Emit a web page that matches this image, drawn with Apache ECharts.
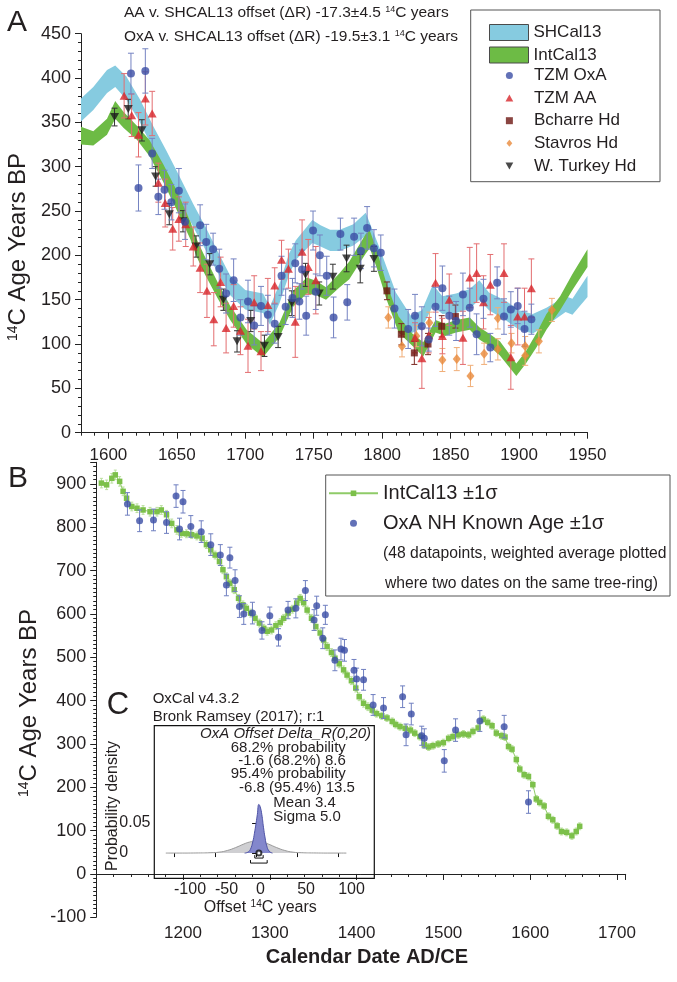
<!DOCTYPE html>
<html><head><meta charset="utf-8">
<script src="https://cdn.jsdelivr.net/npm/echarts@6/dist/echarts.min.js"></script>
<style>html,body{margin:0;padding:0;background:#fff}#c{width:677px;height:982px}</style>
</head><body><div id="c"></div>
<script>
// ---------------- Panel A data ----------------
const aXLabels = [1600,1650,1700,1750,1800,1850,1900,1950];
// SHCal13 band (year, mean 14C age, 1 sigma)
const shYear = [1580,1589,1599,1605,1613,1623,1633,1642,1652,1662,1671,1680,1689,1700,1713,1718,1725,1732,1737,1749,1755,1762,1769,1779,1788,1798,1810,1821,1829,1837,1844,1854,1864,1871,1878,1890,1900,1910,1920,1934,1939,1950];
const shMean = [364,377,396,402,389,363,332,306,276,245,219,192,166,150,146,132,157,190,206,227,222,217,217,223,235,195,146,122,128,155,144,146,151,161,148,138,127,123,131,145,142,165];
const shSig  = [13,13,13,12,13,13,13,13,13,13,13,12,11,11,11,10,11,12,11,13,12,12,12,12,13,14,12,10,10,12,10,11,11,11,10,11,11,11,10,9,9,12];
// IntCal13 band
const icYear = [1580,1589,1599,1605,1611,1621,1630,1640,1650,1660,1664,1670,1680,1689,1701,1713,1725,1735,1745,1752,1759,1769,1776,1788,1791,1796,1803,1812,1822,1830,1839,1846,1854,1864,1871,1878,1886,1898,1905,1913,1920,1930,1939,1950];
const icMean = [335,332,345,364,353,338,321,293,262,228,210,190,160,135,108,93,116,151,166,163,157,172,183,213,218,196,160,122,105,94,120,116,120,123,112,105,95,71,85,105,125,146,170,197];
const icSig  = [10,8,9,10,9,8,9,10,11,10,10,10,9,8,8,8,8,9,9,8,7,8,10,11,10,10,9,9,7,8,7,7,7,7,7,7,8,7,7,8,9,8,9,10];
// measurements: [year, 14C age, error]
const tzmOxA = [[1616.5,405,23],[1627,408,25],[1622,276,26],[1632,315,17],[1636.5,266,20],[1641,274,22],[1646,260,20],[1651.5,273,25],[1656,238,20],[1667,234,23],[1671.5,215,20],[1676.5,207,18],[1681,185,22],[1686,157,22],[1691.5,172,24],[1696.5,130,20],[1702,148,24],[1706.5,121,22],[1711.5,143,22],[1716.5,133,22],[1721.5,123,22],[1726.5,177,22],[1729.5,142,20],[1734.5,152,22],[1736.5,191,22],[1739.5,148,20],[1741.5,184,22],[1744.5,132,22],[1749.5,228,22],[1751.5,159,20],[1754.5,200,23],[1759.5,177,22],[1764.5,130,23],[1769.5,224,18],[1774.5,147,20],[1779.5,221,21],[1784.5,205,20],[1789,231,24],[1794,208,21],[1799,203,20],[1809,140,22],[1819,117,22],[1824,132,24],[1829,120,22],[1834,105,13],[1839,142,22],[1844,163,25],[1849,132,22],[1854,126,22],[1859,156,24],[1864,141,22],[1869,111,23],[1874,151,22],[1879,96,16],[1884,169,18],[1889,131,20],[1894,139,20],[1899,143,20],[1904,117,20],[1909,128,17]];
const tzmAA = [[1611.5,380,25],[1617,358,24],[1622,336,25],[1627,377,30],[1632,360,25],[1636.5,282,22],[1641.5,259,27],[1647,230,24],[1651.5,241,25],[1656.5,235,25],[1662,210,22],[1667,186,28],[1672,160,30],[1677,128,30],[1682,170,28],[1686,118,28],[1691.5,143,24],[1696.5,115,27],[1702,98,30],[1706.5,147,30],[1711.5,92,22],[1716.5,144,30],[1721.5,166,20],[1726.5,195,22],[1731.5,185,22],[1736.5,125,40],[1741.5,204,36],[1746,187,31],[1751.5,172,38],[1824,107,17],[1829,84,34],[1834,110,20],[1839,169,33],[1844,109,20],[1849,150,29],[1859,107,30],[1864,175,34],[1869,180,33],[1874,147,30],[1879,167,34],[1889,180,33],[1894,85,36],[1899,131,32],[1904,131,32],[1909,163,33]];
const bcharre = [[1803.5,160,10],[1814,111,12],[1823.5,90,13],[1833.5,100,12],[1843.5,120,12],[1853.5,131,13]];
const stavros = [[1804.5,130,12],[1814.5,97.5,12],[1825,109,12],[1834.5,124,12],[1844,82,13],[1854.5,83,13],[1864.5,64,12],[1874.5,89,12],[1884.5,129,12],[1884.5,94,12],[1894.5,101,11],[1904.5,97.5,11],[1904.5,87,11],[1914.5,103,13],[1924,138.5,13]];
const wTurkey = [[1604.5,356,10],[1614.5,365,11],[1624.5,341,12],[1634.5,289,11],[1644.5,246.5,12],[1654.5,238.5,12],[1664,210,12],[1674,190,12],[1684,150,12],[1694,103,12],[1704,126,12],[1714,98,12],[1724,108,12],[1734,146,14],[1744,178,13],[1754,157,13],[1764,176,14],[1774,196.5,15],[1784,185,16],[1794,196,14]];

// ---------------- Panel B data ----------------
const bXLabels = [1200,1300,1400,1500,1600,1700];
const intcalB = [[1106,902,11],[1112,898,11],[1118,913,11],[1122,921,11],[1127,906,11],[1131,883,10],[1135,867,10],[1141,848,10],[1147,844,10],[1154,840,10],[1162,836,10],[1170,836,10],[1175,840,10],[1181,829,10],[1187,809,10],[1193,794,10],[1198,786,9],[1204,785,9],[1210,783,9],[1216,780,9],[1222,775,9],[1227,760,9],[1232,748,9],[1237,736,9],[1242,721,9],[1246,702,9],[1250,686,9],[1254,671,9],[1259,656,9],[1264,636,9],[1269,621,9],[1273,613,9],[1278,602,9],[1283,590,9],[1288,579,9],[1293,567,9],[1297,560,9],[1302,563,9],[1307,573,9],[1312,580,9],[1316,590,9],[1321,602,9],[1326,611,9],[1331,625,9],[1335,636,9],[1339,626,9],[1343,609,9],[1348,590,9],[1353,571,9],[1358,556,9],[1362,540,9],[1366,525,9],[1371,511,9],[1375,498,9],[1380,485,9],[1385,471,9],[1389,459,9],[1394,446,9],[1399,429,9],[1403,409,9],[1408,394,9],[1413,386,9],[1418,378,8],[1423,370,8],[1429,365,8],[1435,360,8],[1441,352,8],[1445,345,8],[1450,340,8],[1456,336,8],[1462,332,8],[1467,325,8],[1473,317,8],[1478,298,8],[1483,293,8],[1488,296,8],[1494,300,8],[1500,303,8],[1506,313,8],[1511,317,8],[1517,321,8],[1523,323,8],[1529,321,8],[1534,329,8],[1540,337,8],[1546,357,8],[1551,350,8],[1556,342,8],[1561,325,8],[1567,319,8],[1571,316,8],[1575,294,8],[1579,288,8],[1584,264,8],[1588,242,8],[1593,229,8],[1598,225,8],[1603,206,8],[1607,173,8],[1611,165,8],[1616,157,8],[1621,133,8],[1626,125,8],[1631,111,8],[1636,98,8],[1642,96,8],[1648,88,8],[1653,98,8],[1657,110,8]];
const oxaNH = [[1136,854,26],[1150,815,25],[1166,817,25],[1181,811,25],[1192,872,26],[1200,859,26],[1196,796,25],[1209,802,25],[1221,790,25],[1232,760,25],[1243,736,24],[1254,730,24],[1250,667,25],[1260,677,25],[1265,617,25],[1270,600,24],[1280,602,25],[1291,562,20],[1300,596,20],[1310,546,20],[1321,609,20],[1330,613,22],[1341,654,23],[1351,586,24],[1354,619,22],[1361,544,24],[1364,598,22],[1375,493,24],[1382,519,25],[1386,516,25],[1397,470,25],[1400,450,25],[1408,448,24],[1419,390,24],[1431,383,24],[1453,409,25],[1457,321,25],[1463,369,25],[1475,319,22],[1478,313,22],[1501,261,26],[1514,332,26],[1542,353,24],[1570,340,26],[1598,166,26]];

// ---------------- Panel C (inset) data ----------------
const cXLabels = [-100,-50,0,50,100];
const priorX = [-110,-90,-70,-55,-45,-35,-25,-15,-8,0,8,15,25,35,45,55,70,90,110];
const priorY = [0,0,0.0002,0.0006,0.0015,0.0043,0.0091,0.015,0.0183,0.0199,0.0183,0.015,0.0091,0.0043,0.0015,0.0006,0.0002,0,0];
const postX = [-14,-10,-7,-4,-2,0,1.5,3.4,5,7,9,11,13,16,20];
const postY = [0,0.0015,0.006,0.019,0.033,0.05,0.064,0.081,0.077,0.064,0.043,0.025,0.012,0.003,0];
const range68 = [-1.6, 8.6];
const range95 = [-6.8, 13.5];
const meanOffset = 3.4;

// ---------------- styling ----------------
const FONT = 'Liberation Sans, Arial, Helvetica, sans-serif';
const TXT = '#231f20';
const SH_COL = '#86cbe0', IC_COL = '#6dbb45';
const C_OXA = '#3b4ea5', C_AA = '#d7262b', C_BCH = '#6d1712', C_STV = '#e8893b', C_WT = '#1c1c1c';
const TRI_UP = 'path://M5,0 L10,9 L0,9 Z';
const TRI_DN = 'path://M0,0 L10,0 L5,9 Z';
const SQUARE = 'path://M0,0 L10,0 L10,10 L0,10 Z';
const DIAMOND = 'path://M5,0 L10,6 L5,12 L0,6 Z';

function errRender(capW, color, lw) {
  return function (params, api) {
    const x = api.value(0), y = api.value(1), e = api.value(2);
    const t = api.coord([x, y + e]), b = api.coord([x, y - e]);
    const h = capW / 2, st = {stroke: color, lineWidth: lw};
    return {type: 'group', children: [
      {type: 'line', shape: {x1: t[0], y1: t[1], x2: b[0], y2: b[1]}, style: st},
      {type: 'line', shape: {x1: t[0]-h, y1: t[1], x2: t[0]+h, y2: t[1]}, style: st},
      {type: 'line', shape: {x1: b[0]-h, y1: b[1], x2: b[0]+h, y2: b[1]}, style: st}
    ]};
  };
}
function bandRender(years, means, sigs, color) {
  return function (params, api) {
    if (params.dataIndex !== 0) return null;
    const up = [], lo = [];
    for (let i = 0; i < years.length; i++) {
      up.push(api.coord([years[i], means[i] + sigs[i]]));
      lo.push(api.coord([years[i], means[i] - sigs[i]]));
    }
    return {type: 'polygon', shape: {points: up.concat(lo.reverse())}, style: {fill: color}};
  };
}
function bracketRender(params, api) {
  if (params.dataIndex !== 0) return null;
  const kids = [];
  [[range68, 5], [range95, 10]].forEach(function (r) {
    const a = api.coord([r[0][0], 0]), b = api.coord([r[0][1], 0]);
    const y = a[1] + r[1];
    const st = {stroke: '#111', lineWidth: 1};
    kids.push({type: 'line', shape: {x1: a[0], y1: y, x2: b[0], y2: y}, style: st});
    kids.push({type: 'line', shape: {x1: a[0], y1: y, x2: a[0], y2: y - 3}, style: st});
    kids.push({type: 'line', shape: {x1: b[0], y1: y, x2: b[0], y2: y - 3}, style: st});
  });
  return {type: 'group', children: kids};
}
function ax(o) { return Object.assign({type: 'value', splitLine: {show: false}}, o); }
const axisLine = {show: true, lineStyle: {color: '#222', width: 1}};
const lab = (fs, m) => ({color: TXT, fontSize: fs, fontFamily: FONT, margin: m});
function txt(x, y, text, fs, opt) {
  opt = opt || {};
  const align = opt.align || 'left';
  const st = Object.assign({text: text, fill: TXT, fontSize: fs, fontFamily: FONT,
    align: align, textAlign: align, verticalAlign: 'middle', textVerticalAlign: 'middle'}, opt.style || {});
  const el = {type: 'text', x: x, y: y, style: st, z: 50};
  if (opt.rotation) el.rotation = opt.rotation;
  return el;
}
function supRich(fs) {
  return {n: {fontSize: fs, fontFamily: FONT, fill: TXT, color: TXT},
          s: {fontSize: Math.round(fs * 0.6), fontFamily: FONT, fill: TXT, color: TXT, verticalAlign: 'top'}};
}

const chart = echarts.init(document.getElementById('c'), null, {renderer: 'canvas'});
const option = {
  backgroundColor: '#fff',
  animation: false,
  grid: [
    {left: 81, top: 33.7, width: 506.5, height: 399},
    {left: 96.2, top: 462.3, width: 529.5, height: 455},
    {left: 154.3, top: 725.7, width: 220, height: 152.6, show: true, borderColor: '#111', borderWidth: 1.2, backgroundColor: 'rgba(0,0,0,0)', z: 5}
  ],
  xAxis: [
    ax({gridIndex: 0, min: 1580, max: 1950, axisLine: axisLine,
        axisTick: {show: true, customValues: aXLabels, length: 6, lineStyle: {color: '#222'}},
        axisLabel: Object.assign(lab(17, 14), {customValues: aXLabels, formatter: v => String(v)})}),
    ax({gridIndex: 0, position: 'bottom', min: 1580, max: 1950, interval: 10, axisLine: {show: false},
        axisTick: {show: true, length: 3, lineStyle: {color: '#222'}}, axisLabel: {show: false}}),
    ax({gridIndex: 1, min: 1100, max: 1710, interval: 100, axisLine: axisLine,
        axisTick: {show: true, length: 6, lineStyle: {color: '#222'}},
        minorTick: {show: true, splitNumber: 5, length: 3, lineStyle: {color: '#222'}},
        axisLabel: Object.assign(lab(17, 8), {formatter: v => (v >= 1200 && v % 100 === 0) ? String(v) : ''})}),
    ax({gridIndex: 2, min: -124, max: 144, axisLine: {show: false},
        axisTick: {show: true, customValues: cXLabels, length: 4, lineStyle: {color: '#111'}},
        axisLabel: Object.assign(lab(16, 3), {customValues: cXLabels, align: 'left', formatter: v => String(v)}),
        name: '{n|Offset }{s|14}{n|C years}', nameLocation: 'middle', nameGap: 21,
        nameTextStyle: {rich: supRich(16), padding: [0, 8, 0, 0]}})
  ],
  yAxis: [
    ax({gridIndex: 0, min: 0, max: 450, interval: 50, axisLine: axisLine,
        axisTick: {show: true, length: 6, lineStyle: {color: '#222'}},
        minorTick: {show: true, splitNumber: 5, length: 3, lineStyle: {color: '#222'}},
        axisLabel: lab(18, 10)}),
    ax({gridIndex: 1, min: -100, max: 950, interval: 100, axisLine: axisLine,
        axisTick: {show: true, length: 6, lineStyle: {color: '#222'}},
        minorTick: {show: true, splitNumber: 10, length: 3, lineStyle: {color: '#222'}},
        axisLabel: Object.assign(lab(18, 10), {formatter: v => (v % 100 === 0) ? String(v) : ''})}),
    ax({gridIndex: 2, min: -0.042, max: 0.212, axisLine: {show: false},
        axisTick: {show: true, customValues: [0, 0.05], length: 4, lineStyle: {color: '#111'}},
        axisLabel: Object.assign(lab(16, 35), {customValues: [0, 0.05], align: 'left', formatter: v => v === 0 ? '0' : '0.05'})})
  ],
  legend: [
    {left: 489, top: 24, orient: 'vertical', itemWidth: 39, itemHeight: 16, itemGap: 5.5, padding: 0, selectedMode: false,
     textStyle: {fontSize: 17, fontFamily: FONT, color: TXT, lineHeight: 16},
     data: [{name: 'SHCal13', icon: 'rect', itemStyle: {color: SH_COL, borderColor: '#4a4a4a', borderWidth: 1}},
            {name: 'IntCal13', icon: 'rect', itemStyle: {color: IC_COL, borderColor: '#4a4a4a', borderWidth: 1}}]},
    {left: 505.5, top: 67, orient: 'vertical', itemWidth: 39, itemHeight: 7, itemGap: 5.6, padding: 0, selectedMode: false,
     textStyle: {fontSize: 17, fontFamily: FONT, color: TXT, lineHeight: 16},
     data: ['TZM OxA', 'TZM AA', 'Bcharre Hd', 'Stavros Hd', 'W. Turkey Hd']},
    {left: 328, top: 483.3, orient: 'vertical', itemWidth: 49, itemHeight: 7, itemGap: 10, padding: 0, selectedMode: false,
     textStyle: {fontSize: 20, fontFamily: FONT, color: TXT, lineHeight: 20},
     data: ['IntCal13 \u00b11\u03c3', 'OxA NH Known Age \u00b11\u03c3']}
  ],
  series: [
    // ---- Panel A
    {type: 'custom', name: 'SHCal13', xAxisIndex: 0, yAxisIndex: 0, itemStyle: {color: SH_COL},
     renderItem: bandRender(shYear, shMean, shSig, SH_COL), data: shYear.map((y, i) => [y, shMean[i]]), z: 1},
    {type: 'custom', name: 'IntCal13', xAxisIndex: 0, yAxisIndex: 0, itemStyle: {color: IC_COL},
     renderItem: bandRender(icYear, icMean, icSig, IC_COL), data: icYear.map((y, i) => [y, icMean[i]]), z: 2},
    {type: 'custom', name: 'wt-err', xAxisIndex: 0, yAxisIndex: 0, renderItem: errRender(6, '#333', 1), data: wTurkey, z: 3},
    {type: 'custom', name: 'stv-err', xAxisIndex: 0, yAxisIndex: 0, renderItem: errRender(6, '#f0ae78', 1), data: stavros, z: 3},
    {type: 'custom', name: 'bch-err', xAxisIndex: 0, yAxisIndex: 0, renderItem: errRender(6, '#7d2a24', 1), data: bcharre, z: 3},
    {type: 'custom', name: 'aa-err', xAxisIndex: 0, yAxisIndex: 0, renderItem: errRender(6, '#e36d70', 1), data: tzmAA, z: 3},
    {type: 'custom', name: 'oxa-err', xAxisIndex: 0, yAxisIndex: 0, renderItem: errRender(6, '#7583c2', 1), data: tzmOxA, z: 3},
    {type: 'scatter', name: 'W. Turkey Hd', xAxisIndex: 0, yAxisIndex: 0, symbol: TRI_DN, symbolSize: [9, 8], itemStyle: {color: C_WT}, data: wTurkey, z: 4},
    {type: 'scatter', name: 'Stavros Hd', xAxisIndex: 0, yAxisIndex: 0, symbol: DIAMOND, symbolSize: [8, 10], itemStyle: {color: C_STV}, data: stavros, z: 4},
    {type: 'scatter', name: 'Bcharre Hd', xAxisIndex: 0, yAxisIndex: 0, symbol: SQUARE, symbolSize: 7, itemStyle: {color: C_BCH}, data: bcharre, z: 4},
    {type: 'scatter', name: 'TZM AA', xAxisIndex: 0, yAxisIndex: 0, symbol: TRI_UP, symbolSize: [9, 8], itemStyle: {color: C_AA}, data: tzmAA, z: 4},
    {type: 'scatter', name: 'TZM OxA', xAxisIndex: 0, yAxisIndex: 0, symbol: 'circle', symbolSize: 8, itemStyle: {color: C_OXA}, data: tzmOxA, z: 5},
    // ---- Panel B
    {type: 'custom', name: 'icb-err', xAxisIndex: 2, yAxisIndex: 1, renderItem: errRender(3, '#b9df9d', 1), data: intcalB, z: 3},
    {type: 'line', name: 'IntCal13 \u00b11\u03c3', xAxisIndex: 2, yAxisIndex: 1, symbol: 'rect', symbolSize: 5.5,
     itemStyle: {color: '#7cc04a'}, lineStyle: {color: '#8fcb68', width: 1}, data: intcalB.map(d => [d[0], d[1]]), z: 4},
    {type: 'custom', name: 'oxb-err', xAxisIndex: 2, yAxisIndex: 1, renderItem: errRender(5, '#6f7fc0', 1), data: oxaNH, z: 5},
    {type: 'scatter', name: 'OxA NH Known Age \u00b11\u03c3', xAxisIndex: 2, yAxisIndex: 1, symbol: 'circle', symbolSize: 7,
     itemStyle: {color: C_OXA}, data: oxaNH, z: 6},
    // ---- Inset C
    {type: 'line', name: 'prior', xAxisIndex: 3, yAxisIndex: 2, smooth: true, symbol: 'none',
     lineStyle: {color: '#9a9a9a', width: 1}, areaStyle: {color: '#cfcfd2', opacity: 1, origin: 0},
     data: priorX.map((x, i) => [x, priorY[i]]), z: 6},
    {type: 'line', name: 'posterior', xAxisIndex: 3, yAxisIndex: 2, smooth: true, symbol: 'none',
     lineStyle: {color: '#4e53a6', width: 1}, areaStyle: {color: '#8387cc', opacity: 1, origin: 0},
     data: postX.map((x, i) => [x, postY[i]]), z: 7},
    {type: 'custom', name: 'ranges', xAxisIndex: 3, yAxisIndex: 2, renderItem: bracketRender, data: [[0, 0]], z: 8},
    {type: 'scatter', name: 'mean', xAxisIndex: 3, yAxisIndex: 2, symbol: 'emptyCircle', symbolSize: 5,
     itemStyle: {color: '#111', borderWidth: 1}, data: [[meanOffset, 0]], z: 9}
  ],
  graphic: [
    {type: 'rect', shape: {x: 470.7, y: 10, width: 189.3, height: 171.7}, style: {fill: 'none', stroke: '#555', lineWidth: 1}, z: 1},
    {type: 'rect', shape: {x: 325.7, y: 475, width: 344.3, height: 121}, style: {fill: 'none', stroke: '#555', lineWidth: 1}, z: 1},
    txt(17, 23, 'A', 30, {align: 'center'}),
    txt(18, 479, 'B', 30, {align: 'center'}),
    txt(118, 705, 'C', 31, {align: 'center'}),
    txt(124, 13, '{n|AA v. SHCAL13 offset (\u0394R) -17.3\u00b14.5 }{s|14}{n|C years}', 15.5, {style: {rich: supRich(15.5)}}),
    txt(124, 37, '{n|OxA v. SHCAL13 offset (\u0394R) -19.5\u00b13.1 }{s|14}{n|C years}', 15.5, {style: {rich: supRich(15.5)}}),
    txt(18, 247, '{s|14}{n|C Age Years BP}', 24, {align: 'center', rotation: Math.PI / 2, style: {rich: supRich(24)}}),
    txt(29, 703, '{s|14}{n|C Age Years BP}', 24, {align: 'center', rotation: Math.PI / 2, style: {rich: supRich(24)}}),
    txt(367, 957, 'Calendar Date AD/CE', 20, {align: 'center', style: {fontWeight: 'bold'}}),
    txt(383, 553.3, '(48 datapoints, weighted average plotted', 15.7),
    txt(385, 584, 'where two dates on the same tree-ring)', 15.7),
    txt(152.7, 699.3, 'OxCal v4.3.2', 15),
    txt(152.7, 717.3, 'Bronk Ramsey (2017); r:1', 15),
    txt(371, 734, 'OxA Offset Delta_R(0,20)', 15, {align: 'right', style: {fontStyle: 'italic'}}),
    txt(288.3, 747.7, '68.2% probability', 15, {align: 'center'}),
    txt(292, 760.5, '-1.6 (68.2%) 8.6', 15, {align: 'center'}),
    txt(288.3, 773.5, '95.4% probability', 15, {align: 'center'}),
    txt(297, 788, '-6.8 (95.4%) 13.5', 15, {align: 'center'}),
    txt(273.3, 803, 'Mean 3.4', 15),
    txt(273.3, 817, 'Sigma 5.0', 15),
    txt(112.5, 806, 'Probability density', 16, {align: 'center', rotation: Math.PI / 2})
  ]
};
chart.setOption(option);
</script></body></html>
